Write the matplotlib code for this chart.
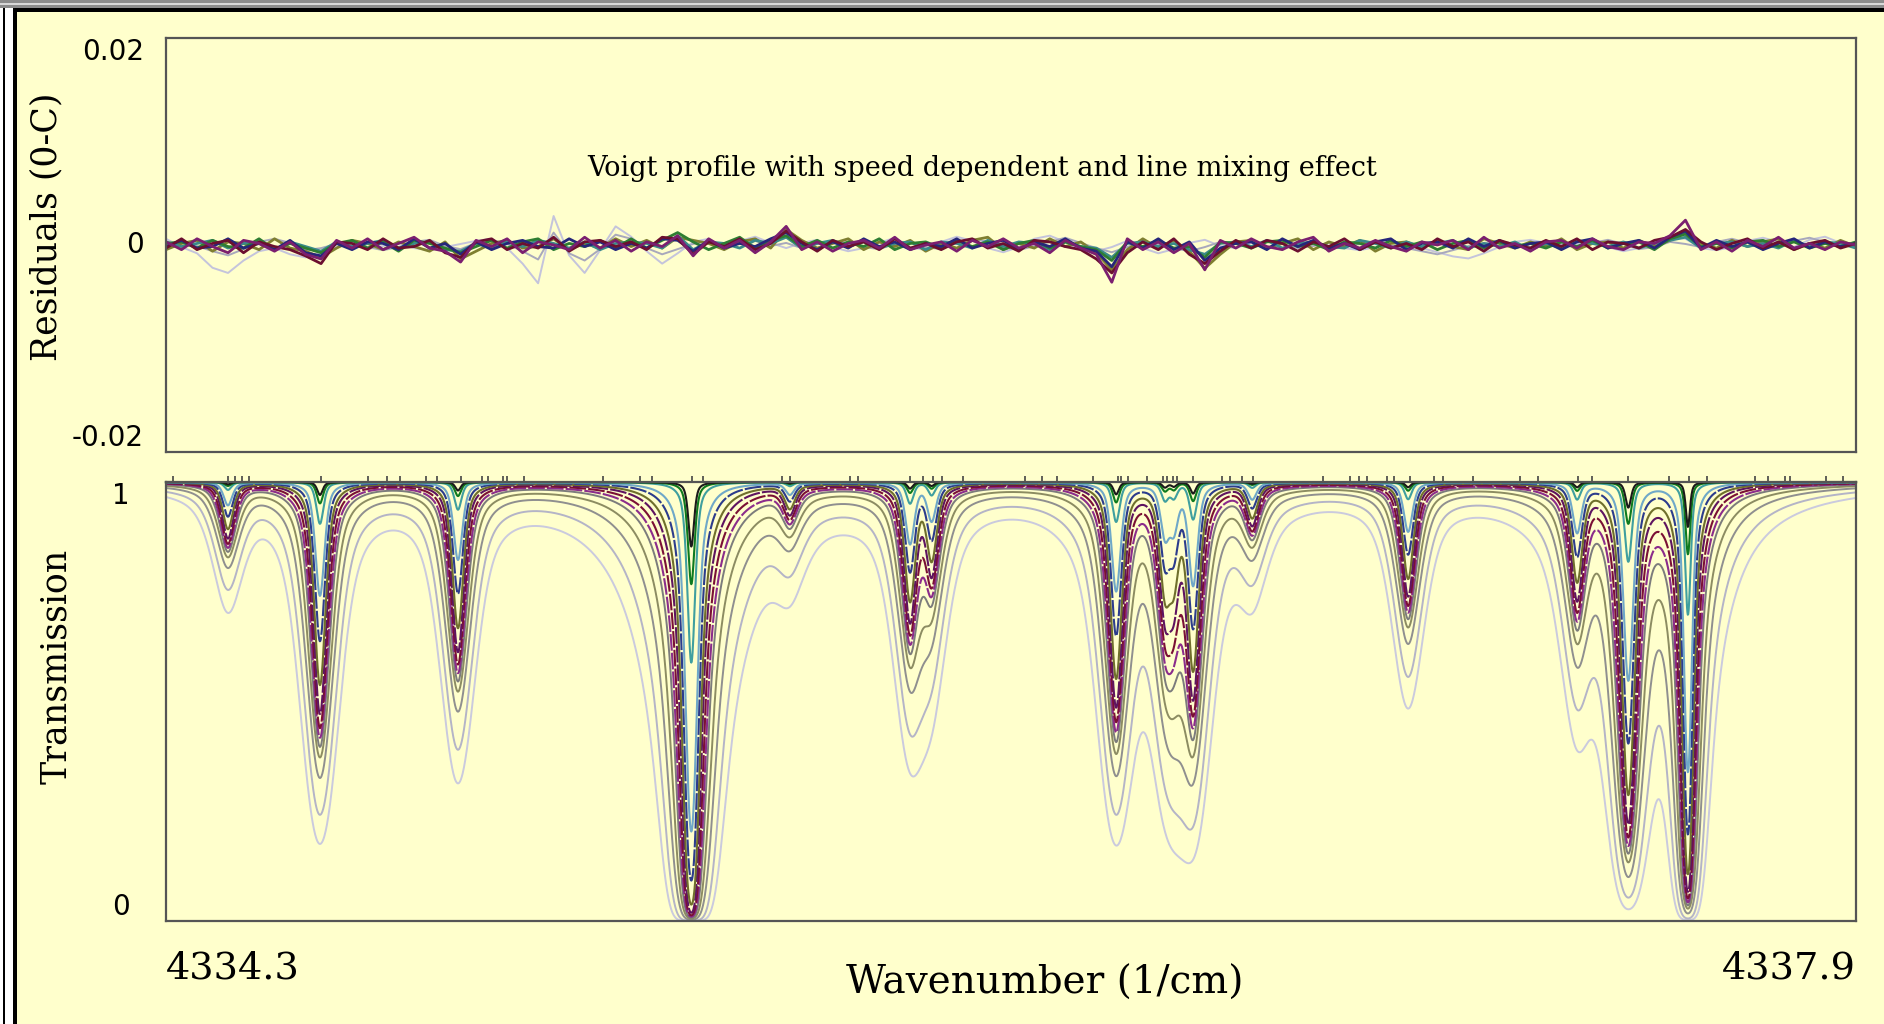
import numpy as np
import matplotlib
matplotlib.use("Agg")
import matplotlib.pyplot as plt
from matplotlib.patches import Rectangle

# ------------------------------------------------------------------ data
x_range = [4334.3, 4337.9]
x_tick_labels = ["4334.3", "4337.9"]
res_ticks = [-0.02, 0.0, 0.02]
res_tick_labels = ["-0.02", "0", "0.02"]
tr_ticks = [0.0, 1.0]
tr_tick_labels = ["0", "1"]

# absorption lines (centre, relative strength, width factor)
line_centers = [4334.432, 4334.628, 4334.922, 4335.419, 4335.629, 4335.885,
                4335.931, 4336.324, 4336.428, 4336.447, 4336.488, 4336.614,
                4336.946, 4337.306, 4337.415, 4337.542]
line_strengths = [0.18, 1.0, 0.65, 5.3, 0.09, 0.50, 0.30, 0.95, 0.40, 0.33,
                  0.88, 0.13, 0.40, 0.40, 2.0, 3.6]
line_width_factor = [1, 1, 1, 1, 1, 1, 1, 1, 1, 1, 1, 1, 1, 1, 1, 0.74]

# one transmission curve per pressure: peak absorbance scale, half width
curve_scale = [1.71, 1.40, 1.11, 0.98, 0.92, 0.87, 0.82, 0.75, 0.62, 0.45,
               0.30, 0.10, 0.05, 0.03]
curve_width = [0.036, 0.032, 0.028, 0.024, 0.020, 0.018, 0.016, 0.014,
               0.013, 0.012, 0.011, 0.009, 0.008, 0.007]
curve_colors = ["#CACADE", "#B4B4C7", "#8F8F8F", "#8C8C62", "#7C7C7C",
                "#8B2C8B", "#7A1035", "#5E1460", "#6F6F2C", "#2C3C8C",
                "#6FA8C8", "#3F9F9F", "#0E7A1E", "#1A1A1A"]
curve_dashed = [False, False, False, False, False, True, True, True, False,
                True, False, False, False, False]

# line positions marked on the top edge of the transmission panel
line_marks = [4334.315, 4334.432, 4334.447, 4334.462, 4334.477, 4334.630,
              4334.730, 4334.771, 4334.798, 4334.854, 4334.877, 4334.928,
              4334.973, 4334.986, 4335.018, 4335.026, 4335.063, 4335.231,
              4335.310, 4335.335, 4335.421, 4335.444, 4335.612, 4335.629,
              4335.757, 4335.774, 4335.885, 4335.913, 4335.934, 4335.953,
              4335.998, 4336.130, 4336.166, 4336.198, 4336.275, 4336.328,
              4336.334, 4336.349, 4336.390, 4336.424, 4336.433, 4336.445,
              4336.454, 4336.488, 4336.550, 4336.567, 4336.592, 4336.616,
              4336.765, 4336.822, 4336.842, 4336.859, 4336.901, 4336.916,
              4336.950, 4337.001, 4337.021, 4337.084, 4337.185, 4337.223,
              4337.308, 4337.338, 4337.415, 4337.502, 4337.545, 4337.583,
              4337.685, 4337.713, 4337.749, 4337.760, 4337.836, 4337.873]

# residuals (observed - calculated), in the units given by res_units
res_gray1 = [6, -2, -8, -22, -27, -15, -6, -3, -9, -12,
             -8, -2, 3, -4, -1, 2, -3, -5, -2, 1,
             4, 6, -3, -18, -37, 28, -10, -27, -5, 18,
             8, -6, -18, -8, 3, 6, -2, 4, 8, 2,
             -3, 2, 5, -2, -6, -3, 2, 7, -2, -5,
             3, 8, 4, -3, -7, -2, 6, 9, 3, -4,
             -6, -2, 4, -3, -8, -4, 2, 5, -1, -3,
             2, -2, -4, 1, 3, -1, -3, -5, -2, 2,
             3, -3, -7, -11, -13, -8, -2, 3, 5, 2,
             -2, 1, 4, -2, -6, -3, 2, 8, 6, -3,
             -5, -2, 4, 7, 3, -2, 5, 8, 2, -3]
res_gray2 = [-2, 4, -1, -6, -10, -4, 3, 6, 2, -5,
             -3, 1, 4, -2, -5, -2, 3, 5, -1, -4,
             2, 5, 1, -6, -14, 12, -8, -15, -4, 10,
             6, -3, -9, -4, 1, 4, -1, 2, 4, -1,
             2, -3, 1, 4, 2, -2, -4, 1, 3, -2,
             -4, 2, 6, 3, -2, -5, -1, 3, 7, 2,
             -3, -7, -2, 4, 1, -3, -6, -2, 3, 1,
             -2, 3, 1, -3, -1, 2, -2, 1, 4, -1,
             -3, -6, -9, -5, -1, 2, 4, 1, -2, 3,
             1, -3, 2, 5, 1, -4, -2, 3, 1, -2,
             3, 6, 2, -3, -1, 4, 7, 3, -2, 1]
res_purple = [2, -3, 4, -1, -5, 3, 1, -4, 2, -6,
              -9, 3, -2, 4, -3, 1, 5, -2, -4, -11,
              3, -1, 4, -5, 2, 0, -3, 5, -2, 3,
              -4, 2, -1, 6, -7, 4, -2, 3, -5, 2,
              12, -3, 2, -4, 1, 3, -2, 5, -3, 0,
              2, -4, 3, -1, 4, -2, 1, -5, 3, -2,
              -6, -24, 4, -3, 2, -5, 1, -16, 3, -2,
              4, -1, -3, 2, 5, -4, 1, -2, 3, -1,
              -4, 2, 0, 3, -3, 5, -2, 1, -4, 2,
              3, -2, 4, -1, -3, 2, 1, 6, 16, -3,
              2, -4, 3, -1, 5, -2, 1, -3, 2, 0]
res_maroon = [-2, 4, -3, 1, 3, -5, 2, -1, -3, -7,
              -12, 2, 1, -3, 4, -2, -1, 3, -5, -8,
              2, 4, -3, 1, -2, 5, -4, 2, 3, -1,
              2, -3, 5, 4, -6, 2, -1, 4, -3, 1,
              9, 2, -4, 3, -1, 2, -3, 4, -2, 1,
              -3, 2, 4, -2, 1, -4, 3, 2, -1, -3,
              -9, -18, -5, 2, -3, 4, -6, -12, -4, 3,
              -2, 3, 1, -4, 2, -1, 4, -3, 2, -2,
              1, -3, 4, -1, 2, -4, 3, 0, -2, 3,
              -1, 4, -3, 2, 1, -2, 3, 5, 10, 2,
              -3, 1, 4, -2, 2, -3, 1, 3, -2, 1]
res_green = [1, 2, -2, 3, -1, -2, 4, -3, 1, -2,
             -5, 1, 3, -2, 2, -4, 3, 1, -2, -5,
             -1, 3, -2, 2, 4, -3, 1, -1, 3, -2,
             4, -2, 3, 8, 2, -3, 1, 5, -2, 3,
             6, -1, 3, -2, 2, -1, 4, -3, 1, 2,
             -2, 3, -1, 2, -3, 1, 3, -2, 2, -1,
             -3, -10, 2, -1, 3, -2, -1, -8, 2, 1,
             -2, 2, 3, -1, 1, -3, 2, 1, -2, 3,
             -1, 2, -3, 1, 3, -2, 2, -1, 1, -2,
             2, -1, 3, -2, 1, 2, -3, 4, 7, -1,
             1, -2, 2, 3, -1, 2, -2, 1, -1, 2]
res_olive = [-3, 1, 3, -4, 2, 1, -3, 4, -2, -4,
             -8, -2, 3, 1, -3, 2, -1, -4, 2, -9,
             -4, 1, 3, -2, -1, 4, -3, 1, -2, 4,
             -1, 3, -2, 5, 3, 1, -3, 2, 4, -2,
             10, 3, -2, 1, 4, -3, 2, -1, 3, -4,
             1, -2, 3, 5, -3, 1, -2, 4, -1, 2,
             -5, -16, -3, 4, -2, 3, -4, -15, -6, 2,
             3, -2, 1, 4, -3, 2, -1, 3, -4, 1,
             2, -2, 3, -1, -3, 4, 1, -2, 2, -1,
             4, -3, 1, 2, -2, 3, -1, 3, 8, 1,
             -2, 3, -1, 2, 4, -3, 1, -2, 3, -1]
res_teal = [2, -1, 1, 3, -2, 1, 2, -3, 2, -1,
            -4, 2, -1, 1, 3, -2, 1, 2, -3, -4,
            1, -2, 2, -1, 3, 1, -2, 2, -3, 1,
            2, 1, -2, 6, -3, 2, 1, -2, 3, 1,
            5, -2, 1, 3, -1, 2, -2, 1, 2, -3,
            2, 1, -2, 3, -1, 2, 1, -3, 2, -1,
            -2, -8, 1, 2, -1, 1, -3, -6, 1, 2,
            -1, 3, -2, 1, 2, -1, -2, 3, 1, -2,
            2, -1, 1, 3, -2, 1, -1, 2, -3, 1,
            -2, 3, 1, -1, 2, -2, 1, 3, 5, -2,
            1, 2, -1, 1, -2, 3, -1, 2, 1, -2]
res_navy = [-1, 3, -2, -1, 4, -2, 1, -3, 3, -5,
            -7, 1, -3, 2, 1, -3, 4, -2, 1, -6,
            2, -3, 1, 3, -1, -2, 4, -1, 2, -3,
            1, -2, 4, 3, -4, 3, -2, 1, -1, 4,
            8, 1, -3, 2, -2, 4, -1, 2, -3, 1,
            -1, 4, -2, 1, 3, -3, 2, -1, 4, -2,
            -4, -14, 2, -2, 4, -3, 2, -10, -2, 1,
            2, -3, 4, -1, 3, -2, 1, -3, 2, 4,
            -3, 1, 2, -2, 4, -1, 3, -2, 1, 2,
            -3, 2, 4, -2, 1, 3, -2, 5, 9, -2,
            3, -1, 2, -3, 1, 4, -2, 2, -1, 1]
res_series = [res_gray1, res_gray2, res_olive, res_teal, res_green,
              res_navy, res_maroon, res_purple]
res_units = [1e-4, 1e-4, 1.5e-4, 1.5e-4, 1.5e-4, 1.5e-4, 1.5e-4, 1.5e-4]
res_colors = ["#C4C4DC", "#A8A8BC", "#7F7F30", "#3A8A8A", "#2E7D32",
              "#26267A", "#6B0F2F", "#7B1F6F"]

# ------------------------------------------------------------------ figure
W, H = 1884, 1024
fig = plt.figure(figsize=(W / 100, H / 100), dpi=100, facecolor="#FFFFCC")


def fx(px):
    return px / W


def fy(py):
    return 1 - py / H


# window frame
fig.add_artist(Rectangle((0, fy(8)), 1, 8 / H, transform=fig.transFigure,
                         color="#8C8C8C", lw=0))
fig.add_artist(Rectangle((0, fy(5)), 1, 2 / H, transform=fig.transFigure,
                         color="#D8D8D8", lw=0))
fig.add_artist(Rectangle((0, 0), fx(13), fy(8), transform=fig.transFigure,
                         color="#FFFFFF", lw=0))
fig.add_artist(Rectangle((fx(3), 0), fx(1.6), fy(8), transform=fig.transFigure,
                         color="#000000", lw=0))
fig.add_artist(Rectangle((fx(13), 0), fx(4), fy(8), transform=fig.transFigure,
                         color="#000000", lw=0))
fig.add_artist(Rectangle((fx(13), fy(12)), 1, 4 / H, transform=fig.transFigure,
                         color="#000000", lw=0))

ax_r = fig.add_axes([fx(166), fy(452), fx(1690), 414 / H])
ax_t = fig.add_axes([fx(166), fy(921), fx(1690), 439 / H])

for ax in (ax_r, ax_t):
    ax.set_facecolor("#FFFFCC")
    for s in ax.spines.values():
        s.set_color("#555555")
        s.set_linewidth(1.6)
    ax.set_xlim(*x_range)

sans = "DejaVu Sans"
serif = "DejaVu Serif"

# ---------------- residual panel
for i, (arr, unit, col) in enumerate(zip(res_series, res_units, res_colors)):
    xs = np.linspace(x_range[0], x_range[1], len(arr))
    ax_r.plot(xs, np.array(arr) * unit, color=col, lw=1.4 if i < 2 else 2.0)
ax_r.set_ylim(-0.02, 0.02)
ax_r.set_xticks([])
ax_r.set_yticks(res_ticks)
ax_r.set_yticklabels(res_tick_labels, fontsize=20, family=sans)
ax_r.tick_params(axis="y", length=0, pad=16)
for lbl, va in zip(ax_r.get_yticklabels(), ["bottom", "center", "top"]):
    lbl.set_va(va)
ax_r.set_ylabel("Residuals (0-C)", family=serif, fontsize=25, va="center",
                ha="center")
ax_r.yaxis.set_label_coords(-0.071, 0.545)
ax_r.text(0.483, 0.684,
          "Voigt profile with speed dependent and line mixing effect",
          transform=ax_r.transAxes, ha="center", va="center", family=serif,
          fontsize=19.5, color="#000000")

# ---------------- transmission panel
nu = np.linspace(x_range[0], x_range[1], 4000)


def profile(d, w):
    x2 = (d / w) ** 2
    return 0.6 / (1 + x2) + 0.4 * np.exp(-np.log(2) * x2)


for i, (a, w, col) in enumerate(zip(curve_scale, curve_width, curve_colors)):
    absorb = np.zeros_like(nu)
    for c, s, f in zip(line_centers, line_strengths, line_width_factor):
        absorb += s * profile(nu - c, w * f)
    trans = np.exp(-a * absorb)
    broad = i < 5
    line, = ax_t.plot(nu, trans, color=col, lw=1.4 if broad else 1.5,
                      clip_on=False)
    if curve_dashed[i]:
        line.set_dashes([8, 1.0])

ax_t.set_ylim(0, 1)
ax_t.set_yticks(tr_ticks)
ax_t.set_yticklabels(tr_tick_labels, fontsize=20, family=sans)
ax_t.tick_params(axis="y", length=0, pad=26)
for lbl, va in zip(ax_t.get_yticklabels(), ["bottom", "top"]):
    lbl.set_va(va)

ax_t.set_xticks(x_range)
ax_t.set_xticklabels(x_tick_labels, fontsize=27.5, family=serif)
ax_t.set_xticks(line_marks, minor=True)
ax_t.tick_params(axis="x", which="major", length=0, pad=21)
ax_t.tick_params(axis="x", which="minor", bottom=False, top=True,
                 direction="out", length=4, width=1.2, color="#444444")
for lbl, ha in zip(ax_t.get_xticklabels(), ["left", "right"]):
    lbl.set_ha(ha)

ax_t.set_ylabel("Transmission", family=serif, fontsize=25, va="center",
                ha="center")
ax_t.yaxis.set_label_coords(-0.065, 0.58)
ax_t.set_xlabel("Wavenumber (1/cm)", family=serif, fontsize=28, va="center",
                ha="center")
ax_t.xaxis.set_label_coords(0.52, -0.141)

fig.savefig("out.png", dpi=100, facecolor=fig.get_facecolor())
